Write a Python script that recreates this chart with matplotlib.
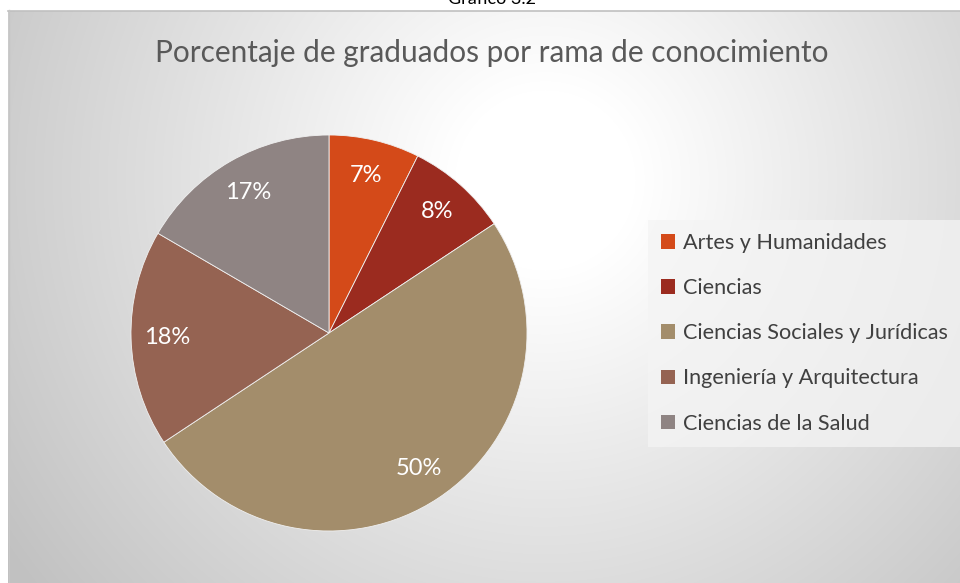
import numpy as np
import matplotlib.pyplot as plt
from matplotlib.patches import Patch

# data
ramas = ['Artes y Humanidades', 'Ciencias', 'Ciencias Sociales y Jurídicas',
         'Ingeniería y Arquitectura', 'Ciencias de la Salud']
porcentajes = [7.4, 8.3, 50.0, 17.7, 16.6]
colores = ['#d44a19', '#9b2b1f', '#a38d6b', '#956352', '#8f8483']

plt.rcParams['font.family'] = ['Lato', 'DejaVu Sans']

W, H = 960, 583
fig = plt.figure(figsize=(W / 100, H / 100), dpi=100)
fig.patch.set_facecolor('white')

# background layer in pixel coordinates
bg = fig.add_axes([0, 0, 1, 1])
bg.set_xlim(0, W)
bg.set_ylim(H, 0)
bg.axis('off')

# radial grey gradient of the chart area
xx, yy = np.meshgrid(np.arange(8, W), np.arange(11, H))
d = np.hypot(xx - 545, yy - 180)
v = 1 - 0.24 * np.clip((d - 90) / 560, 0, 1)
img = np.dstack([v, v, v])
bg.imshow(img, extent=(8, W, H, 11), aspect='auto', interpolation='bilinear', zorder=0)
bg.plot([8, W], [10.5, 10.5], color='#c0c0c0', lw=1.2, zorder=1)
bg.plot([8.5, 8.5], [10, H], color='#c6c6c6', lw=1.0, zorder=1)

bg.text(492, 4, 'Gráfico 3.2', ha='center', va='baseline', fontsize=13, color='black')
bg.text(492, 53, 'Porcentaje de graduados por rama de conocimiento', ha='center',
        va='center', fontsize=21.4, color='#595959')

# pie
cx, cy, r = 329, 333, 198
ax = fig.add_axes([(cx - r) / W, (H - cy - r) / H, 2 * r / W, 2 * r / H])
wedges, texts, autotexts = ax.pie(
    porcentajes, colors=colores, startangle=90, counterclock=False,
    autopct='%.0f%%', pctdistance=0.82, radius=1,
    wedgeprops=dict(edgecolor='#f0f0f0', linewidth=0.6),
    textprops=dict(color='white', fontsize=17))
ax.set_xlim(-1, 1)
ax.set_ylim(-1, 1)
ax.axis('off')

# legend
handles = [Patch(facecolor=c, edgecolor='none') for c in colores]
leg = bg.legend(handles, ramas, loc='upper left',
                bbox_to_anchor=(648 / W, 1 - 220 / H), bbox_transform=fig.transFigure,
                fontsize=15.6, frameon=True, fancybox=False, borderpad=0.6,
                handlelength=0.65, handleheight=0.65, handletextpad=0.35,
                labelspacing=1.16, borderaxespad=0)
leg.get_frame().set_facecolor('#f4f4f4')
leg.get_frame().set_alpha(0.75)
leg.get_frame().set_edgecolor('none')
for t in leg.get_texts():
    t.set_color('#404040')

fig.savefig('out.png', dpi=100)
